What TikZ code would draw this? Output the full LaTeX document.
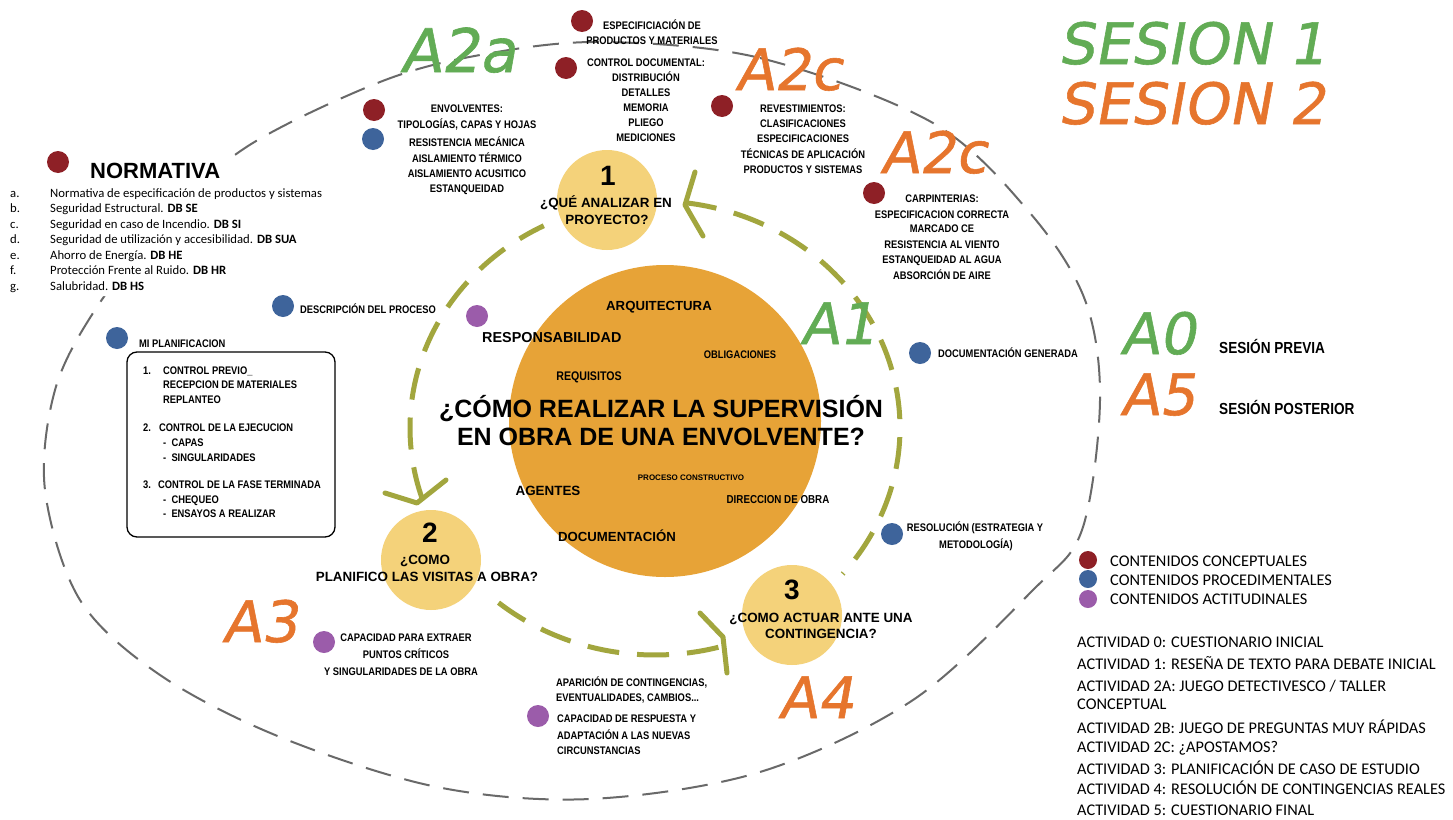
\documentclass[tikz,border=0pt]{standalone}
\usepackage{fontspec}
\setmainfont{Liberation Sans}
\newfontfamily\condfont[FakeStretch=0.85]{Liberation Sans}
\newfontfamily\calfont{Carlito}
\newfontfamily\handfont[FakeSlant=0.18,FakeBold=1]{DejaVu Sans}
\definecolor{dred}{RGB}{142,32,38}
\definecolor{dblue}{RGB}{62,100,155}
\definecolor{dpurp}{RGB}{155,92,170}
\definecolor{hgreen}{RGB}{98,172,85}
\definecolor{horange}{RGB}{230,117,45}
\definecolor{olive}{RGB}{162,166,62}
\definecolor{ogray}{RGB}{105,105,105}
\definecolor{orng}{RGB}{231,163,55}
\definecolor{bubc}{RGB}{244,210,122}
\begin{document}
\begin{tikzpicture}[x=1pt,y=-1pt,
  sm/.style={font=\condfont\bfseries\fontsize{11}{13}\selectfont, inner sep=0pt, anchor=base},
  smw/.style={sm, anchor=base west},
  big/.style={font=\bfseries\fontsize{13.4}{15}\selectfont, inner sep=0pt, anchor=base},
  num/.style={font=\bfseries\fontsize{28}{30}\selectfont, inner sep=0pt, anchor=base},
  hnd/.style={font=\handfont\fontsize{57}{57}\selectfont, inner sep=0pt, anchor=base west},
  cal/.style={font=\calfont\fontsize{16.3}{18}\selectfont, inner sep=0pt, anchor=base west},
  lst/.style={font=\calfont\fontsize{12.7}{14}\selectfont, inner sep=0pt, anchor=base west},
  dotr/.style={circle, fill=dred, minimum size=22pt, inner sep=0pt},
  dotb/.style={circle, fill=dblue, minimum size=22pt, inner sep=0pt},
  dotp/.style={circle, fill=dpurp, minimum size=22pt, inner sep=0pt},
  outer/.style={draw=ogray, line width=2pt, dash pattern=on 26pt off 14pt},
  olv/.style={draw=olive, line width=5pt, dash pattern=on 32pt off 18pt},
  chev/.style={draw=olive, line width=5pt, line join=round, line cap=round},
  bub/.style={circle, fill=bubc, minimum size=100pt, inner sep=0pt}
]
\useasboundingbox (0,0) rectangle (1453,819);
\fill[white] (0,0) rectangle (1453,819);

% outer dashed ellipse
\draw[outer] plot[smooth cycle, tension=0.55] coordinates {(600,42) (760,58) (933,123) (1030,213) (1085,300) (1100,400) (1082,530) (1033,590) (913,700) (760,772) (590,799) (437,787) (280,737) (160,675) (80,600) (45,490) (55,390) (95,310) (165,220) (248,146) (380,82) (480,55)};
% white backing of the NORMATIVA block
\fill[white] (0,157) -- (233,157) -- (233,181) -- (328,181) -- (328,296) -- (0,296) -- cycle;

% green cycle
\draw[olv] plot[domain=198:117, samples=80] ({655+245*cos(\x)},{428-227*sin(\x)});
\draw[olv] plot[domain=285:227, samples=60] ({655+245*cos(\x)},{428-227*sin(\x)});
\draw[olv] plot[domain=83:-40, samples=120] ({655+245*cos(\x)},{428-227*sin(\x)});
\coordinate (t1) at (685,205);
\coordinate (t2) at (417,503);
\coordinate (t3) at (723,637);
\draw[chev] (695,172) -- (t1) -- (703,236);
\draw[chev] (385,493) -- (t2) -- (446,480);
\draw[chev] (700,613) -- (t3) -- (727,673);

% circles
\node[circle, fill=orng, minimum size=312pt, inner sep=0pt] (core) at (665,421) {};
\node[bub] (b1) at (607,200) {};
\node[bub] (b2) at (431,560) {};
\node[bub] (b3) at (792,615) {};

% box
\draw[line width=1.3pt, rounded corners=10pt] (127,352) rectangle (335,537);

% dots
\node[dotr] (d1) at (582,21) {};
\node[dotr] (d2) at (566,68) {};
\node[dotr] (d3) at (374,110) {};
\node[dotb] (d4) at (373,139) {};
\node[dotr] (d5) at (722,106) {};
\node[dotr] (d6) at (874,193) {};
\node[dotr] (d7) at (58,162) {};
\node[dotb] (d8) at (283,306) {};
\node[dotb] (d9) at (117,338) {};
\node[dotp] (d10) at (477,316) {};
\node[dotb] (d11) at (920,353) {};
\node[dotb] (d12) at (892,534) {};
\node[dotp] (d13) at (324,642) {};
\node[dotp] (d14) at (538,716) {};

% top texts
\node[sm] (e1) at (652,29) {ESPECIFICIACIÓN DE};
\node[sm] (e2) at (652,44) {PRODUCTOS Y MATERIALES};
\node[sm] (c1) at (646,66) {CONTROL DOCUMENTAL:};
\node[sm] (c2) at (646,81) {DISTRIBUCIÓN};
\node[sm] (c3) at (646,96) {DETALLES};
\node[sm] (c4) at (646,111) {MEMORIA};
\node[sm] (c5) at (646,126) {PLIEGO};
\node[sm] (c6) at (646,141) {MEDICIONES};

\node[sm] (v1) at (467,112) {ENVOLVENTES:};
\node[sm] (v2) at (467,128) {TIPOLOGÍAS, CAPAS Y HOJAS};
\node[sm] (v3) at (467,146) {RESISTENCIA MECÁNICA};
\node[sm] (v4) at (467,162) {AISLAMIENTO TÉRMICO};
\node[sm] (v5) at (467,177) {AISLAMIENTO ACUSITICO};
\node[sm] (v6) at (467,192) {ESTANQUEIDAD};

\node[sm] (r1) at (803,112) {REVESTIMIENTOS:};
\node[sm] (r2) at (803,127) {CLASIFICACIONES};
\node[sm] (r3) at (803,142) {ESPECIFICACIONES};
\node[sm] (r4) at (803,158) {TÉCNICAS DE APLICACIÓN};
\node[sm] (r5) at (803,173) {PRODUCTOS Y SISTEMAS};

\node[sm] (p1) at (942,202) {CARPINTERIAS:};
\node[sm] (p2) at (942,218) {ESPECIFICACION CORRECTA};
\node[sm] (p3) at (942,232) {MARCADO CE};
\node[sm] (p4) at (942,248) {RESISTENCIA AL VIENTO};
\node[sm] (p5) at (942,263) {ESTANQUEIDAD AL AGUA};
\node[sm] (p6) at (942,279) {ABSORCIÓN DE AIRE};

% normativa
\node[font=\bfseries\fontsize{22}{24}\selectfont, inner sep=0pt, anchor=base west] (nt) at (90,178) {NORMATIVA};
\node[lst] (la) at (10,197) {a.};
\node[lst] (lb) at (10,212.5) {b.};
\node[lst] (lc) at (10,228) {c.};
\node[lst] (ld) at (10,243.5) {d.};
\node[lst] (le) at (10,259) {e.};
\node[lst] (lf) at (10,274.5) {f.};
\node[lst] (lg) at (10,290) {g.};
\node[lst] (ta) at (50,197) {Normativa de especificación de productos y sistemas};
\node[lst] (tb) at (50,212.5) {Seguridad Estructural. \textbf{DB SE}};
\node[lst] (tc) at (50,228) {Seguridad en caso de Incendio. \textbf{DB SI}};
\node[lst] (td) at (50,243.5) {Seguridad de utilización y accesibilidad. \textbf{DB SUA}};
\node[lst] (te) at (50,259) {Ahorro de Energía. \textbf{DB HE}};
\node[lst] (tf) at (50,274.5) {Protección Frente al Ruido. \textbf{DB HR}};
\node[lst] (tg) at (50,290) {Salubridad. \textbf{DB HS}};

% left procedural
\node[smw] (dp) at (300,313) {DESCRIPCIÓN DEL PROCESO};
\node[smw] (mp) at (139,347) {MI PLANIFICACION};
\node[smw] (m1n) at (143,374) {1.};
\node[smw] (m1a) at (163,374) {CONTROL PREVIO\_};
\node[smw] (m1b) at (163,388) {RECEPCION DE MATERIALES};
\node[smw] (m1c) at (163,403) {REPLANTEO};
\node[smw] (m2n) at (143,431) {2.};
\node[smw] (m2a) at (159,431) {CONTROL DE LA EJECUCION};
\node[smw] (m2b) at (163,446) {-\ \ CAPAS};
\node[smw] (m2c) at (163,461) {-\ \ SINGULARIDADES};
\node[smw] (m3n) at (143,488) {3.};
\node[smw] (m3a) at (158,488) {CONTROL DE LA FASE TERMINADA};
\node[smw] (m3b) at (163,503) {-\ \ CHEQUEO};
\node[smw] (m3c) at (163,517) {-\ \ ENSAYOS A REALIZAR};

% core texts
\node[font=\bfseries\fontsize{13.2}{15}\selectfont, inner sep=0pt, anchor=base] (k1) at (659,310) {ARQUITECTURA};
\node[font=\bfseries\fontsize{14.4}{16}\selectfont, inner sep=0pt, anchor=base west] (k2) at (482,342) {RESPONSABILIDAD};
\node[sm] (k3) at (740,358) {OBLIGACIONES};
\node[font=\condfont\bfseries\fontsize{12.5}{14}\selectfont, inner sep=0pt, anchor=base] (k4) at (589,380) {REQUISITOS};
\node[font=\bfseries\fontsize{25}{28}\selectfont, inner sep=0pt, anchor=base] (q1) at (661,417) {¿CÓMO REALIZAR LA SUPERVISIÓN};
\node[font=\bfseries\fontsize{25}{28}\selectfont, inner sep=0pt, anchor=base] (q2) at (661,445) {EN OBRA DE UNA ENVOLVENTE?};
\node[font=\bfseries\fontsize{8}{9}\selectfont, inner sep=0pt, anchor=base] (k5) at (691,480) {PROCESO CONSTRUCTIVO};
\node[font=\bfseries\fontsize{13.4}{15}\selectfont, inner sep=0pt, anchor=base] (k6) at (548,495) {AGENTES};
\node[font=\condfont\bfseries\fontsize{11.5}{13}\selectfont, inner sep=0pt, anchor=base] (k7) at (778,503) {DIRECCION DE OBRA};
\node[font=\bfseries\fontsize{13.2}{15}\selectfont, inner sep=0pt, anchor=base] (k8) at (617,541) {DOCUMENTACIÓN};

% bubble texts
\node[num] (n1) at (608,185) {1};
\node[big] (s1a) at (606,207) {¿QUÉ ANALIZAR EN};
\node[big] (s1b) at (607,224) {PROYECTO?};
\node[num] (n2) at (430,542) {2};
\node[big] (s2a) at (425,564) {¿COMO};
\node[big] (s2b) at (427,581) {PLANIFICO LAS VISITAS A OBRA?};
\node[num] (n3) at (792,599) {3};
\node[big] (s3a) at (821,622) {¿COMO ACTUAR ANTE UNA};
\node[big] (s3b) at (821,638) {CONTINGENCIA?};

% right texts
\node[smw] (dg) at (938,357) {DOCUMENTACIÓN GENERADA};
\node[sm] (rs1) at (975,531) {RESOLUCIÓN (ESTRATEGIA Y};
\node[sm] (rs2) at (976,548) {METODOLOGÍA)};
\node[font=\condfont\bfseries\fontsize{16}{18}\selectfont, inner sep=0pt, anchor=base west] (sp) at (1219,353) {SESIÓN PREVIA};
\node[font=\condfont\bfseries\fontsize{16}{18}\selectfont, inner sep=0pt, anchor=base west] (spo) at (1219,414) {SESIÓN POSTERIOR};

% bottom texts
\node[sm] (x1) at (406,641) {CAPACIDAD PARA EXTRAER};
\node[sm] (x2) at (406,658) {PUNTOS CRÍTICOS};
\node[sm] (x3) at (401,675) {Y SINGULARIDADES DE LA OBRA};
\node[smw] (y1) at (556,686) {APARICIÓN DE CONTINGENCIAS,};
\node[smw] (y2) at (556,701) {EVENTUALIDADES, CAMBIOS...};
\node[smw] (y3) at (557,722) {CAPACIDAD DE RESPUESTA Y};
\node[smw] (y4) at (557,739) {ADAPTACIÓN A LAS NUEVAS};
\node[smw] (y5) at (557,754) {CIRCUNSTANCIAS};

% hand labels
\node[hnd, text=hgreen] (h1) at (1058,64) {SESION 1};
\node[hnd, text=horange] (h2) at (1058,124) {SESION 2};
\node[hnd, text=hgreen, font=\handfont\fontsize{60}{60}\selectfont] (h3) at (400,72) {A2a};
\node[hnd, text=horange] (h4) at (735,90) {A2c};
\node[hnd, text=horange] (h5) at (880,173) {A2c};
\node[hnd, text=hgreen] (h6) at (800,344) {A1};
\node[hnd, text=hgreen] (h7) at (1120,354) {A0};
\node[hnd, text=horange] (h8) at (1120,415) {A5};
\node[hnd, text=horange] (h9) at (222,642) {A3};
\node[hnd, text=horange] (h10) at (778,718) {A4};

% legend
\node[circle, fill=dred, minimum size=18pt, inner sep=0pt] (g1) at (1088,560) {};
\node[circle, fill=dblue, minimum size=18pt, inner sep=0pt] (g2) at (1088,579) {};
\node[circle, fill=dpurp, minimum size=18pt, inner sep=0pt] (g3) at (1088,599) {};
\node[cal] (gt1) at (1110,566) {CONTENIDOS CONCEPTUALES};
\node[cal] (gt2) at (1110,585) {CONTENIDOS PROCEDIMENTALES};
\node[cal] (gt3) at (1110,604) {CONTENIDOS ACTITUDINALES};

\node[cal] (a0) at (1077,647) {ACTIVIDAD 0: CUESTIONARIO INICIAL};
\node[cal] (a1) at (1077,669) {ACTIVIDAD 1: RESEÑA DE TEXTO PARA DEBATE INICIAL};
\node[cal] (a2) at (1077,691) {ACTIVIDAD 2A: JUEGO DETECTIVESCO / TALLER};
\node[cal] (a2b) at (1077,709) {CONCEPTUAL};
\node[cal] (a3) at (1077,733) {ACTIVIDAD 2B: JUEGO DE PREGUNTAS MUY RÁPIDAS};
\node[cal] (a4) at (1077,752) {ACTIVIDAD 2C: ¿APOSTAMOS?};
\node[cal] (a5) at (1077,774) {ACTIVIDAD 3: PLANIFICACIÓN DE CASO DE ESTUDIO};
\node[cal] (a6) at (1077,794) {ACTIVIDAD 4: RESOLUCIÓN DE CONTINGENCIAS REALES};
\node[cal] (a7) at (1077,815) {ACTIVIDAD 5: CUESTIONARIO FINAL};
\end{tikzpicture}
\end{document}
